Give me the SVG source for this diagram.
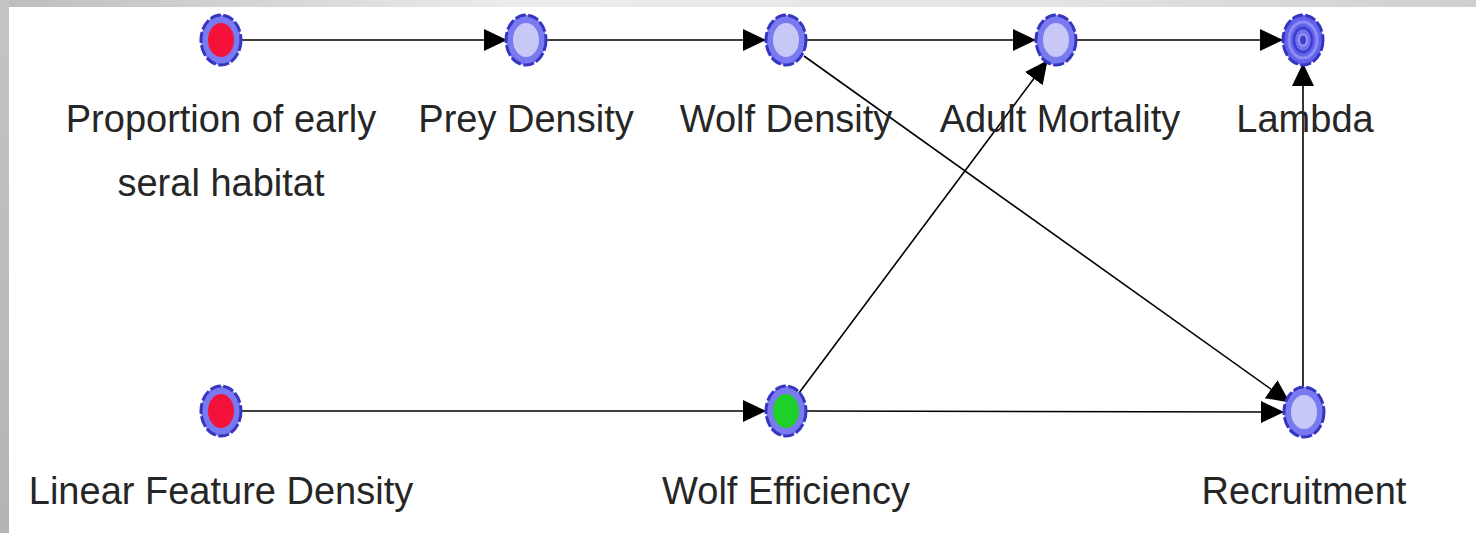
<svg xmlns="http://www.w3.org/2000/svg" width="1476" height="533" viewBox="0 0 1476 533">
  <defs>
    <linearGradient id="topBand" x1="0" y1="0" x2="1" y2="0">
      <stop offset="0" stop-color="#bdbdbd"/>
      <stop offset="0.35" stop-color="#ececec"/>
      <stop offset="0.7" stop-color="#e4e4e4"/>
      <stop offset="1" stop-color="#cfcfcf"/>
    </linearGradient>
    <linearGradient id="leftBand" x1="0" y1="0" x2="0" y2="1">
      <stop offset="0" stop-color="#c4c4c4"/>
      <stop offset="1" stop-color="#b4b4b4"/>
    </linearGradient>
    <marker id="arrow" markerUnits="userSpaceOnUse" markerWidth="24" markerHeight="24" refX="22" refY="12" orient="auto">
      <path d="M0,1 L23,12 L0,23 Z" fill="#000"/>
    </marker>
    <style>
      .ring { fill: #7a7af0; stroke: #3535bf; stroke-width: 3; stroke-dasharray: 11 2.5; }
      .core { fill: #c8c8f6; }
      .red { fill: #f5123a; }
      .green { fill: #1fcf2a; }
      .label { font-family: "Liberation Sans", Arial, sans-serif; font-size: 38px; fill: #262626; text-anchor: middle; }
      .edge { stroke: #000; stroke-width: 1.6; fill: none; marker-end: url(#arrow); }
    </style>
  </defs>

  <!-- page and frame -->
  <rect x="0" y="0" width="1476" height="533" fill="#ffffff"/>
  <rect x="0" y="0" width="1476" height="7" fill="url(#topBand)"/>
  <rect x="0" y="0" width="9" height="533" fill="url(#leftBand)"/>

  <!-- connectors -->
  <g id="connectors">
    <line class="edge" x1="242" y1="40" x2="506" y2="40"/>
    <line class="edge" x1="547" y1="40" x2="765" y2="40"/>
    <line class="edge" x1="807" y1="40" x2="1035" y2="40"/>
    <line class="edge" x1="1077" y1="40" x2="1282" y2="40"/>
    <line class="edge" x1="242" y1="411" x2="765" y2="411"/>
    <line class="edge" x1="807" y1="411" x2="1283" y2="412"/>
    <line class="edge" x1="804" y1="56" x2="1289" y2="402"/>
    <line class="edge" x1="799" y1="393" x2="1047" y2="61"/>
    <line class="edge" x1="1303" y1="386" x2="1303" y2="64"/>
  </g>

  <!-- nodes -->
  <g id="proportion-early-seral">
    <ellipse class="ring" cx="221" cy="40" rx="20" ry="25"/>
    <ellipse class="red" cx="221" cy="40" rx="13" ry="17"/>
    <text class="label" x="221" y="132">Proportion of early</text>
    <text class="label" x="221" y="196">seral habitat</text>
  </g>

  <g id="prey-density">
    <ellipse class="ring" cx="526" cy="40" rx="20" ry="25"/>
    <ellipse class="core" cx="526" cy="40" rx="13" ry="17"/>
    <text class="label" x="526" y="132">Prey Density</text>
  </g>

  <g id="wolf-density">
    <ellipse class="ring" cx="786" cy="40" rx="20" ry="25"/>
    <ellipse class="core" cx="786" cy="40" rx="13" ry="17"/>
    <text class="label" x="786" y="132">Wolf Density</text>
  </g>

  <g id="adult-mortality">
    <ellipse class="ring" cx="1056" cy="40" rx="20" ry="25"/>
    <ellipse class="core" cx="1056" cy="40" rx="13" ry="17"/>
    <text class="label" x="1060" y="132">Adult Mortality</text>
  </g>

  <g id="lambda">
    <ellipse class="ring" cx="1303" cy="40" rx="20" ry="25" style="fill:#6262ea"/>
    <ellipse cx="1303" cy="40" rx="14" ry="18" fill="none" stroke="#8c8cf4" stroke-width="3"/>
    <ellipse cx="1303" cy="40" rx="9" ry="12" fill="#7474ee" stroke="#3c3cd2" stroke-width="2.5"/>
    <ellipse cx="1303" cy="40" rx="4" ry="5.5" fill="#4040d4" stroke="#9a9af6" stroke-width="2"/>
    <text class="label" x="1305" y="132">Lambda</text>
  </g>

  <g id="linear-feature-density">
    <ellipse class="ring" cx="221" cy="411" rx="20" ry="25"/>
    <ellipse class="red" cx="221" cy="411" rx="13" ry="17"/>
    <text class="label" x="221" y="504">Linear Feature Density</text>
  </g>

  <g id="wolf-efficiency">
    <ellipse class="ring" cx="786" cy="411" rx="20" ry="25"/>
    <ellipse class="green" cx="786" cy="411" rx="13" ry="17"/>
    <text class="label" x="786" y="504">Wolf Efficiency</text>
  </g>

  <g id="recruitment">
    <ellipse class="ring" cx="1304" cy="412" rx="20" ry="25"/>
    <ellipse class="core" cx="1304" cy="412" rx="13" ry="17"/>
    <text class="label" x="1304" y="504">Recruitment</text>
  </g>
</svg>
